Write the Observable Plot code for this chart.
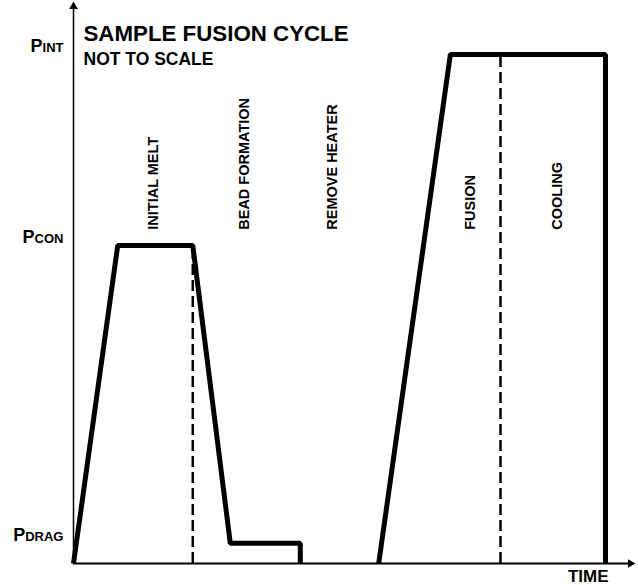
<!DOCTYPE html>
<html>
<head>
<meta charset="utf-8">
<script src="https://cdn.jsdelivr.net/npm/d3@7"></script>
<script src="https://cdn.jsdelivr.net/npm/@observablehq/plot@0.6"></script>
<style>
  html, body { margin: 0; padding: 0; background: white; }
</style>
</head>
<body>
<div id="chart"></div>
<script>
// Sample fusion cycle (schematic, not to scale)
const title = "SAMPLE FUSION CYCLE";
const subtitle = "NOT TO SCALE";
const xLabel = "TIME";

// Pressure levels (y tick labels, rendered in small caps)
const levelNames = ["Pint", "Pcon", "Pdrag"];
const levelValues = [90.9, 56.8, 3.6];

// Pressure profile over time
const cycleTime     = [0, 7.9, 21.3, 28.0, 40.5, 40.5,   54.5, 67.3, 95.0, 95.0];
const cyclePressure = [0, 56.8, 56.8, 3.6, 3.6, 0,       0, 90.9, 90.9, 0];
const cycleSegment  = [1, 1, 1, 1, 1, 1,                 2, 2, 2, 2];

// Dashed phase dividers
const dividerTime = [21.3, 76.25];
const dividerTop  = [56.8, 90.9];

// Phase labels
const phaseNames = ["INITIAL MELT", "BEAD FORMATION", "REMOVE HEATER", "FUSION", "COOLING"];
const phaseTime  = [14.3, 30.5, 46.3, 70.9, 86.4];
const phaseLabelBase = 59.6;

// Axis extents
const axisMax = 100;

const cycle = cycleTime.map((t, i) => ({t, p: cyclePressure[i], seg: cycleSegment[i]}));
const levels = levelNames.map((name, i) => ({name, p: levelValues[i]}));
const dividers = dividerTime.map((t, i) => ({t, top: dividerTop[i]}));
const phases = phaseNames.map((name, i) => ({name, t: phaseTime[i]}));

const font = "'Liberation Sans', Arial, Helvetica, sans-serif";

const chart = Plot.plot({
  width: 638,
  height: 585,
  marginLeft: 73,
  marginRight: 5,
  marginTop: 3,
  marginBottom: 22,
  x: {domain: [0, axisMax], axis: null},
  y: {domain: [0, axisMax], axis: null},
  style: {fontFamily: font, fontVariant: "small-caps", background: "white", color: "black"},
  marks: [
    // axes
    Plot.ruleY([0], {stroke: "black", strokeWidth: 2}),
    Plot.ruleX([0], {stroke: "black", strokeWidth: 1.5}),
    Plot.dot([{x: axisMax, y: 0}], {x: "x", y: "y", symbol: "triangle", rotate: 90, r: 3.2, fill: "black", stroke: null, dx: -3}),
    Plot.dot([{x: 0, y: axisMax}], {x: "x", y: "y", symbol: "triangle", rotate: 0, r: 3.2, fill: "black", stroke: null, dy: 3}),
    // dashed dividers
    Plot.ruleX(dividers, {x: "t", y1: 0, y2: "top", stroke: "black", strokeWidth: 2.5, strokeDasharray: "11,5"}),
    // profile
    Plot.line(cycle, {x: "t", y: "p", z: "seg", stroke: "black", strokeWidth: 5, strokeLinejoin: "miter", strokeLinecap: "butt"}),
    // level labels
    Plot.text(levels, {x: 0, y: "p", text: "name", textAnchor: "end", dx: -10, dy: -8, fontSize: 18, fontWeight: "bold", fill: "black"}),
    // phase labels
    Plot.text(phases, {x: "t", y: phaseLabelBase, text: "name", rotate: -90, textAnchor: "start", fontSize: 14.5, fontWeight: "bold", fill: "black", fontFamily: "'Liberation Sans Narrow', " + font}),
    // title
    Plot.text([title], {frameAnchor: "top-left", dx: 10, dy: 37, lineAnchor: "bottom", text: d => d, fontSize: 22.3, fontWeight: "bold", fill: "black"}),
    Plot.text([subtitle], {frameAnchor: "top-left", dx: 10, dy: 61, lineAnchor: "bottom", text: d => d, fontSize: 17.5, fontWeight: "bold", fill: "black"}),
    // x label
    Plot.text([xLabel], {x: cycleTime[cycleTime.length - 1], y: 0, text: d => d, textAnchor: "end", lineAnchor: "top", dy: 6, dx: 3, fontSize: 17, fontWeight: "bold", fill: "black"})
  ]
});
document.getElementById("chart").appendChild(chart);
</script>
</body>
</html>
